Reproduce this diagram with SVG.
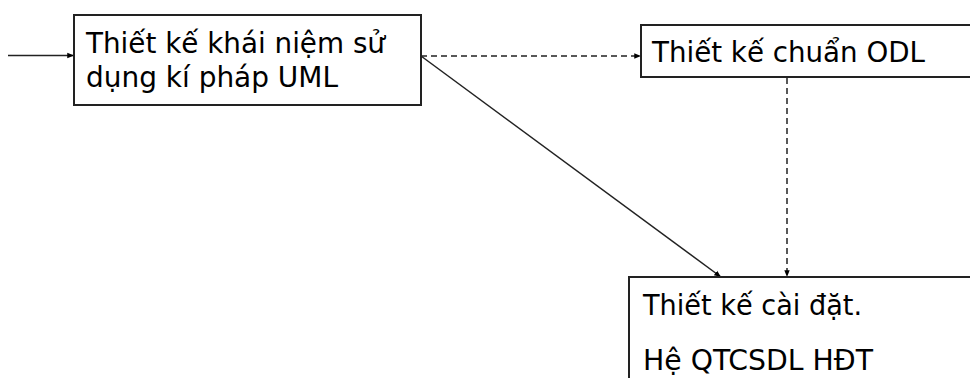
<svg xmlns="http://www.w3.org/2000/svg" width="970" height="378" viewBox="0 0 970 378">
<style>
.box{fill:#fff;stroke:#222;stroke-width:2}
.t{font-family:"DejaVu Sans Condensed","DejaVu Sans",Tahoma,Verdana,sans-serif;font-size:29px;fill:#000}
.c{stroke:#222;stroke-width:1.5;fill:none}
.d{stroke-dasharray:6,4}
</style>
<defs>
<marker id="ah" viewBox="0 0 10 10" refX="10" refY="5" markerWidth="4.5" markerHeight="4.5" orient="auto"><path d="M0,1 L10,5 L0,9 z" fill="#000"/></marker>
</defs>
<rect width="970" height="378" fill="#fff"/>
<g id="connectors">
<line class="c" x1="8" y1="55.5" x2="74" y2="55.5" marker-end="url(#ah)"/>
<line class="c d" x1="421" y1="56" x2="641" y2="56" marker-end="url(#ah)"/>
<line class="c" x1="421" y1="56" x2="721" y2="277" marker-end="url(#ah)"/>
<line class="c d" x1="787" y1="78" x2="787" y2="277" marker-end="url(#ah)"/>
</g>
<g id="n1">
<rect class="box" x="74" y="15" width="347" height="90"/>
<text class="t" x="86" y="53" textLength="299" lengthAdjust="spacingAndGlyphs">Thiết kế khái niệm sử</text>
<text class="t" x="86" y="87" textLength="252" lengthAdjust="spacingAndGlyphs">dụng kí pháp UML</text>
</g>
<g id="n2">
<rect class="box" x="641" y="25" width="340" height="52"/>
<text class="t" x="652" y="62" textLength="273" lengthAdjust="spacingAndGlyphs">Thiết kế chuẩn ODL</text>
</g>
<g id="n3">
<rect class="box" x="629" y="277" width="350" height="110"/>
<text class="t" x="643" y="315" textLength="219" lengthAdjust="spacingAndGlyphs">Thiết kế cài đặt.</text>
<text class="t" x="643" y="370" textLength="230" lengthAdjust="spacingAndGlyphs">Hệ QTCSDL HĐT</text>
</g>
</svg>
